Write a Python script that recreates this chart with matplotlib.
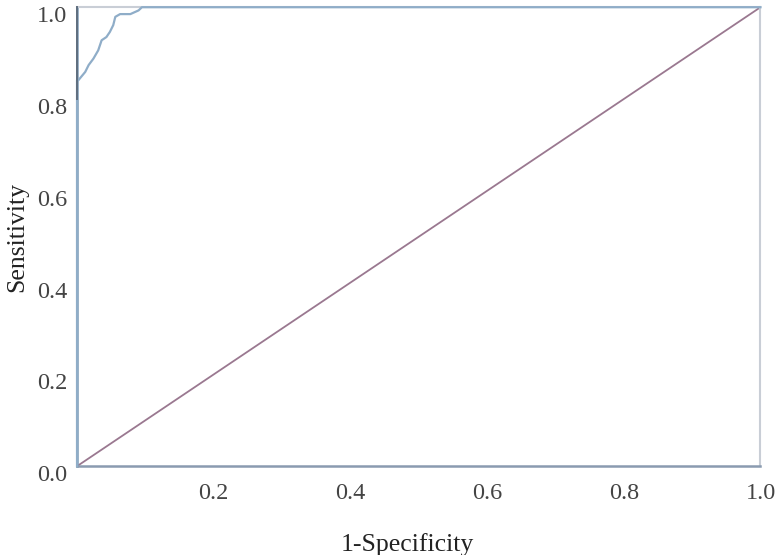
import matplotlib
matplotlib.use("Agg")
import matplotlib.pyplot as plt
import matplotlib.transforms as mtransforms

plt.rcParams['font.family'] = ['Liberation Serif', 'DejaVu Serif']

# ROC curve points (1-specificity, sensitivity)
fpr = [0.0, 0.0, 0.002, 0.012, 0.017, 0.024, 0.031, 0.036, 0.043, 0.048,
       0.053, 0.056, 0.063, 0.078, 0.090, 0.095, 1.0]
tpr = [0.0, 0.841, 0.841, 0.859, 0.874, 0.888, 0.906, 0.928, 0.935, 0.946,
       0.961, 0.979, 0.985, 0.985, 0.993, 1.0, 1.0]

# reference line
ref_x = [0.0, 1.0]
ref_y = [0.0, 1.0]

xticks = [0.2, 0.4, 0.6, 0.8, 1.0]
yticks = [0.0, 0.2, 0.4, 0.6, 0.8, 1.0]

fig = plt.figure(figsize=(7.82, 5.55), dpi=100)
ax = fig.add_axes([0.0985, 0.160, 0.874, 0.827])

ax.plot(ref_x, ref_y, color='#9a7890', lw=1.3, zorder=2)
ax.plot(fpr, tpr, color='#8fadc8', lw=1.6, zorder=3, clip_on=False)
# darker upper part of the left edge
ax.plot(fpr[:2], [0.8, 1.0], color='#5f6e7e', lw=1.4, zorder=4, clip_on=False)

ax.set_xlim(0, 1)
ax.set_ylim(0, 1)
ax.set_xticks(xticks)
ax.set_yticks(yticks)
ax.set_xticklabels(['%.1f' % v for v in xticks])
ax.set_yticklabels(['%.1f' % v for v in yticks])
ax.tick_params(length=0, labelsize=17.5, colors='#444444')
ax.tick_params(axis='x', pad=12)
ax.tick_params(axis='y', pad=7)

# y tick labels sit a bit below their ticks
off = mtransforms.ScaledTranslation(0, -7 / 100, fig.dpi_scale_trans)
for lab in ax.get_yticklabels():
    lab.set_transform(lab.get_transform() + off)

ax.spines['left'].set_color('#7f9cb8')
ax.spines['left'].set_linewidth(1.8)
ax.spines['bottom'].set_color('#8a9bb0')
ax.spines['bottom'].set_linewidth(1.8)
ax.spines['top'].set_color('#c9ced6')
ax.spines['top'].set_linewidth(1.5)
ax.spines['right'].set_color('#c9ced6')
ax.spines['right'].set_linewidth(1.5)

ax.set_xlabel('1-Specificity', fontsize=18.5, labelpad=20, color='#222222')
ax.xaxis.set_label_coords(0.483, -0.145)
ax.set_ylabel('Sensitivity', fontsize=18.5, labelpad=6, color='#222222')

fig.savefig('out.png', dpi=100)
